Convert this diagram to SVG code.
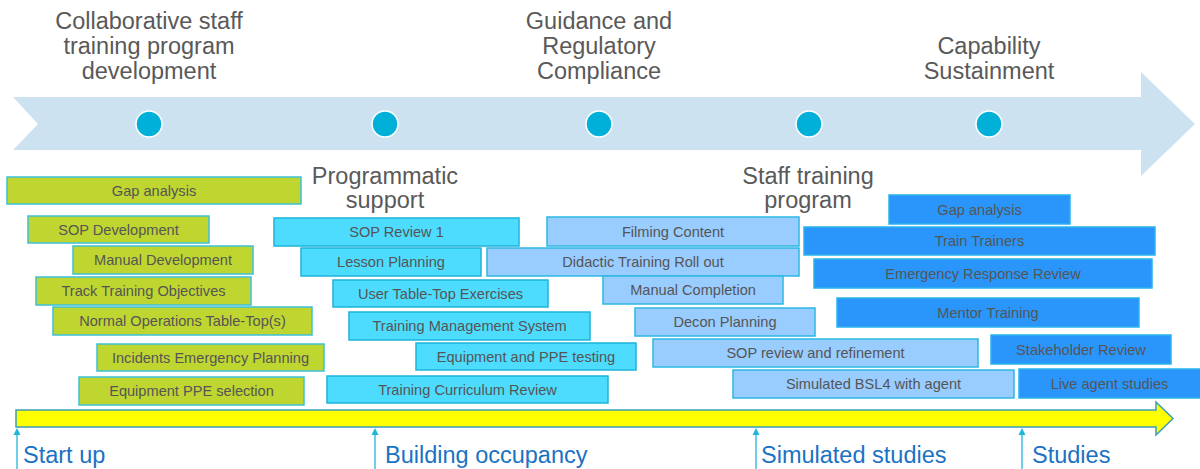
<svg xmlns="http://www.w3.org/2000/svg" width="1200" height="469" viewBox="0 0 1200 469">
<defs>
<style>
.h{font-family:"Liberation Sans",Arial,sans-serif;font-size:23.5px;fill:#595959;text-anchor:middle}
.b{font-family:"Liberation Sans",Arial,sans-serif;font-size:23.5px;fill:#1A72C4}
.t{font-family:"Liberation Sans",Arial,sans-serif;font-size:14.6px;fill:#555555;text-anchor:middle}
.g rect{fill:#BFD631;stroke:#3DC1D8;stroke-width:1.5}
.c rect{fill:#4DDCFD;stroke:#1DB4DA;stroke-width:1.5}
.l rect{fill:#99CCFF;stroke:#2DB8E2;stroke-width:1.5}
.d rect{fill:#2A95FB;stroke:#2AB3EC;stroke-width:1.5}
.dot{fill:#00B0D9;stroke:#ffffff;stroke-width:1.5}
.up{stroke:#22B5DC;stroke-width:1.3;fill:none}
</style>
<marker id="ah" viewBox="0 0 10 10" refX="0" refY="5" markerWidth="7" markerHeight="8" markerUnits="userSpaceOnUse" orient="auto">
<path d="M0,0 L10,5 L0,10 Z" fill="#22B5DC"/>
</marker>
</defs>
<rect width="1200" height="469" fill="#ffffff"/>

<g id="timeline">
<path d="M13,97 L1141,97 L1141,72 L1195,124 L1141,176 L1141,150 L13,150 L38,124 Z" fill="#CCE2F0"/>
<circle class="dot" cx="149" cy="124" r="13"/>
<circle class="dot" cx="385" cy="124" r="13"/>
<circle class="dot" cx="599" cy="124" r="13"/>
<circle class="dot" cx="809" cy="124" r="13"/>
<circle class="dot" cx="989" cy="124" r="13"/>
</g>

<g id="headings">
<text class="h" x="149" y="29">Collaborative staff</text>
<text class="h" x="149" y="54">training program</text>
<text class="h" x="149" y="79">development</text>
<text class="h" x="599" y="29">Guidance and</text>
<text class="h" x="599" y="54">Regulatory</text>
<text class="h" x="599" y="79">Compliance</text>
<text class="h" x="989" y="54">Capability</text>
<text class="h" x="989" y="79">Sustainment</text>
<text class="h" x="385" y="184">Programmatic</text>
<text class="h" x="385" y="208">support</text>
<text class="h" x="808" y="184">Staff training</text>
<text class="h" x="808" y="208">program</text>
</g>

<g id="green" class="g">
<g id="g1"><rect x="7" y="177" width="294" height="27"/><text class="t" x="154" y="196">Gap analysis</text></g>
<g id="g2"><rect x="28" y="216" width="181" height="27"/><text class="t" x="118.5" y="235">SOP Development</text></g>
<g id="g3"><rect x="73" y="246" width="180" height="28"/><text class="t" x="163" y="265">Manual Development</text></g>
<g id="g4"><rect x="36" y="277" width="215" height="28"/><text class="t" x="143.5" y="296">Track Training Objectives</text></g>
<g id="g5"><rect x="53" y="307" width="259" height="28"/><text class="t" x="182.5" y="326">Normal Operations Table-Top(s)</text></g>
<g id="g6"><rect x="97" y="344" width="227" height="27"/><text class="t" x="210.5" y="363">Incidents Emergency Planning</text></g>
<g id="g7"><rect x="79" y="377" width="225" height="28"/><text class="t" x="191.5" y="396">Equipment PPE selection</text></g>
</g>

<g id="cyan" class="c">
<g id="c1"><rect x="274" y="218" width="245" height="28"/><text class="t" x="396.5" y="237">SOP Review 1</text></g>
<g id="c2"><rect x="301" y="248" width="180" height="28"/><text class="t" x="391" y="267">Lesson Planning</text></g>
<g id="c3"><rect x="333" y="280" width="215" height="27"/><text class="t" x="440.5" y="299">User Table-Top Exercises</text></g>
<g id="c4"><rect x="349" y="312" width="241" height="28"/><text class="t" x="469.5" y="331">Training Management System</text></g>
<g id="c5"><rect x="416" y="343" width="220" height="27"/><text class="t" x="526" y="362">Equipment and PPE testing</text></g>
<g id="c6"><rect x="327" y="376" width="281" height="27"/><text class="t" x="467.5" y="395">Training Curriculum Review</text></g>
</g>

<g id="lightblue" class="l">
<g id="l1"><rect x="547" y="217" width="252" height="29"/><text class="t" x="673" y="237">Filming Content</text></g>
<g id="l2"><rect x="487" y="248" width="312" height="28"/><text class="t" x="643" y="267">Didactic Training Roll out</text></g>
<g id="l3"><rect x="603" y="276" width="180" height="28"/><text class="t" x="693" y="295">Manual Completion</text></g>
<g id="l4"><rect x="635" y="308" width="180" height="28"/><text class="t" x="725" y="327">Decon Planning</text></g>
<g id="l5"><rect x="653" y="339" width="325" height="28"/><text class="t" x="815.5" y="358">SOP review and refinement</text></g>
<g id="l6"><rect x="733" y="370" width="281" height="28"/><text class="t" x="873.5" y="389">Simulated BSL4 with agent</text></g>
</g>

<g id="darkblue" class="d">
<g id="d1"><rect x="889" y="195" width="181" height="29"/><text class="t" x="979.5" y="215">Gap analysis</text></g>
<g id="d2"><rect x="804" y="227" width="351" height="28"/><text class="t" x="979.5" y="246">Train Trainers</text></g>
<g id="d3"><rect x="814" y="259" width="338" height="29"/><text class="t" x="983" y="279">Emergency Response Review</text></g>
<g id="d4"><rect x="837" y="298" width="302" height="29"/><text class="t" x="988" y="318">Mentor Training</text></g>
<g id="d5"><rect x="991" y="335" width="180" height="29"/><text class="t" x="1081" y="355">Stakeholder Review</text></g>
<g id="d6"><rect x="1019" y="369" width="182" height="29"/><text class="t" x="1109.5" y="389">Live agent studies</text></g>
</g>

<g id="phase-arrow">
<path d="M16,410 L1156,410 L1156,402 L1173,418.5 L1156,435 L1156,427 L16,427 Z" fill="#FFFF00" stroke="#3A9EB6" stroke-width="1.5" stroke-linejoin="miter"/>
</g>

<g id="connectors">
<line class="up" x1="17" y1="469" x2="17" y2="435" marker-end="url(#ah)"/>
<line class="up" x1="375" y1="469" x2="375" y2="435" marker-end="url(#ah)"/>
<line class="up" x1="756" y1="469" x2="756" y2="435" marker-end="url(#ah)"/>
<line class="up" x1="1022" y1="469" x2="1022" y2="435" marker-end="url(#ah)"/>
</g>

<g id="milestones">
<text class="b" x="23" y="463">Start up</text>
<text class="b" x="385" y="463">Building occupancy</text>
<text class="b" x="761" y="463">Simulated studies</text>
<text class="b" x="1032" y="463">Studies</text>
</g>
</svg>
